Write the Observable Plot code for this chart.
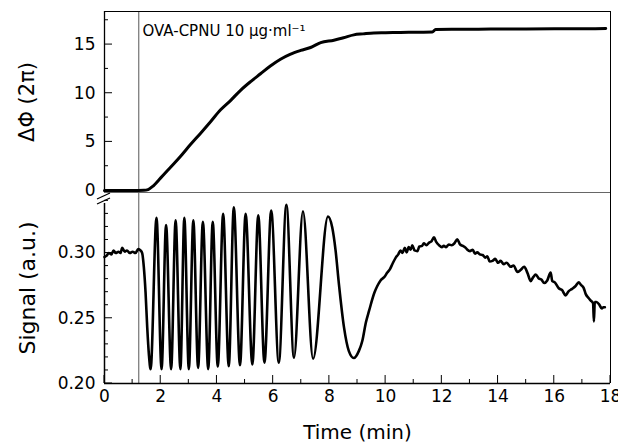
<!DOCTYPE html>
<html><head><meta charset="utf-8">
<script src="https://cdn.jsdelivr.net/npm/d3@7"></script>
<script src="https://cdn.jsdelivr.net/npm/@observablehq/plot@0.6"></script>
<style>
body{margin:0;background:#fff;}
#chart{position:relative;width:618px;height:448px;background:#fff;font-family:"DejaVu Sans";}
#chart svg{position:absolute;left:0;overflow:visible;}
</style></head><body><div id="chart"></div>
<script>
// ---- data ----
const phaseTime = [0, 0.5, 1.0, 1.4, 1.55, 1.7, 2.0, 2.35, 2.7, 3.05, 3.42, 3.78, 4.13, 4.5, 4.84, 5.2, 5.55, 5.9, 6.26, 6.6, 6.98, 7.33, 7.69, 8.16, 8.5, 8.87, 9.2, 9.58, 10.0, 10.53, 11.0, 11.66, 11.78, 12.5, 13.3, 14.09, 15.0, 16.0, 17.0, 17.83];
const phaseValue = [0, 0, 0, 0.02, 0.1, 0.4, 1.3, 2.4, 3.5, 4.7, 5.9, 7.1, 8.3, 9.3, 10.3, 11.2, 12.0, 12.8, 13.5, 14.0, 14.4, 14.7, 15.2, 15.45, 15.7, 16.0, 16.1, 16.2, 16.22, 16.25, 16.27, 16.3, 16.55, 16.57, 16.58, 16.6, 16.6, 16.62, 16.63, 16.65];

const signalTime = [
  0, 0.08, 0.15, 0.25, 0.32, 0.40, 0.50, 0.57, 0.63, 0.72, 0.80, 0.90, 1.00, 1.10, 1.20, 1.28, 1.34,
  1.40, 1.46, 1.52, 1.58, 1.64,
  1.85, 2.03, 2.19, 2.37, 2.53, 2.70, 2.84, 3.00, 3.16, 3.33,
  3.50, 3.69, 3.85, 4.03, 4.22, 4.42, 4.60, 4.82, 5.02, 5.26,
  5.47, 5.69, 5.93, 6.20, 6.47, 6.74, 7.06, 7.42, 7.95, 8.10,
  8.22, 8.34, 8.52, 8.69, 8.87, 9.05, 9.17, 9.30, 9.41, 9.60,
  9.70, 9.82, 9.95, 10.06, 10.15, 10.25,
  10.36, 10.45, 10.53, 10.60, 10.68, 10.75, 10.82, 10.89, 10.95, 11.03,
  11.13, 11.20, 11.30, 11.36, 11.45, 11.55, 11.63, 11.72, 11.80, 11.90,
  12.00, 12.07, 12.15, 12.25, 12.35, 12.45, 12.55, 12.65, 12.75, 12.85,
  12.91, 13.00, 13.10, 13.18, 13.26, 13.35, 13.45, 13.55, 13.62, 13.70,
  13.80, 13.90, 14.00, 14.09, 14.20, 14.30, 14.45, 14.55, 14.69, 14.80,
  14.93, 15.05, 15.16, 15.25, 15.34, 15.45, 15.55, 15.64, 15.75, 15.87,
  15.93, 16.02, 16.16, 16.28, 16.40, 16.50, 16.63, 16.75, 16.87, 16.95,
  17.04, 17.12, 17.22, 17.30, 17.38, 17.41, 17.44, 17.50, 17.60, 17.69,
  17.75, 17.80
];
const signalValue = [
  0.297, 0.298, 0.300, 0.299, 0.302, 0.300, 0.301, 0.300, 0.304, 0.301, 0.302, 0.300, 0.301, 0.300, 0.303, 0.302, 0.300,
  0.289, 0.270, 0.243, 0.222, 0.211,
  0.327, 0.211, 0.3215, 0.211, 0.325, 0.211, 0.327, 0.211, 0.325, 0.212,
  0.324, 0.211, 0.324, 0.213, 0.330, 0.2133, 0.335, 0.214, 0.330, 0.2146,
  0.329, 0.216, 0.3325, 0.216, 0.337, 0.2197, 0.332, 0.219, 0.328, 0.3197,
  0.302, 0.276, 0.243, 0.225, 0.2195, 0.225, 0.2326, 0.247, 0.2556, 0.2695,
  0.2745, 0.279, 0.2815, 0.285, 0.2875, 0.292,
  0.2965, 0.299, 0.302, 0.300, 0.304, 0.3005, 0.3045, 0.3025, 0.306, 0.302,
  0.3015, 0.305, 0.3055, 0.3075, 0.306, 0.308, 0.309, 0.312, 0.3085, 0.306,
  0.3045, 0.3055, 0.3045, 0.3065, 0.306, 0.3075, 0.3105, 0.3065, 0.3055, 0.304,
  0.3025, 0.3015, 0.3025, 0.2995, 0.3005, 0.299, 0.2985, 0.2965, 0.2975, 0.2935,
  0.294, 0.2955, 0.2925, 0.294, 0.2915, 0.2925, 0.2895, 0.2905, 0.2855, 0.287,
  0.2895, 0.2845, 0.2785, 0.2815, 0.2835, 0.2805, 0.2795, 0.277, 0.279, 0.285,
  0.2785, 0.2775, 0.273, 0.2715, 0.2675, 0.2705, 0.2725, 0.2745, 0.2775, 0.2755,
  0.2735, 0.2685, 0.2655, 0.2635, 0.2615, 0.2475, 0.2625, 0.2625, 0.2605, 0.2575,
  0.2585, 0.2585
];

const xTicks = [0, 2, 4, 6, 8, 10, 12, 14, 16, 18];
const xMinorTicks = [1, 3, 5, 7, 9, 11, 13, 15, 17];
const phaseTicks = [0, 5, 10, 15];
const phaseMinorTicks = [2.5, 7.5, 12.5, 17.5];
const signalTicks = [0.20, 0.25, 0.30];
const signalMinorTicks = [0.21, 0.22, 0.23, 0.24, 0.26, 0.27, 0.28, 0.29, 0.31, 0.32, 0.33, 0.34];
const injectionTime = [1.22];
const annotation = ["OVA-CPNU 10 μg·ml⁻¹"];
const annotationPos = {x: 1.35, y: 16.35};
const phaseLabel = ["ΔΦ (2π)"];
const signalLabel = ["Signal (a.u.)"];
const timeLabel = ["Time (min)"];
const xDomain = [0, 18];
const phaseDomain = [-0.2, 18.4];
const signalDomain = [0.20, 0.3464];
const signalAxisTop = 0.338;

const FONT = "DejaVu Sans";
const W = 618;
const ML = 104, MR = 8;

const topPlot = Plot.plot({
  width: W, height: 193,
  marginLeft: ML, marginRight: MR, marginTop: 11, marginBottom: 1,
  style: {fontFamily: FONT, background: "transparent", overflow: "visible"},
  x: {domain: xDomain, axis: null},
  y: {domain: phaseDomain, axis: null},
  marks: [
    Plot.ruleX(injectionTime, {stroke: "#555", strokeWidth: 1}),
    Plot.ruleY([phaseDomain[0]], {stroke: "#666", strokeWidth: 1}),
    Plot.ruleY([phaseDomain[1]], {stroke: "#000", strokeWidth: 1}),
    Plot.ruleX([xDomain[0]], {stroke: "#000", strokeWidth: 1.3}),
    Plot.ruleX([xDomain[1]], {stroke: "#000", strokeWidth: 1}),
    Plot.line(phaseTime, {x: phaseTime, y: phaseValue, stroke: "#000", strokeWidth: 3, curve: "monotone-x"}),
    Plot.axisY(phaseTicks, {tickSize: 0, tickPadding: 9, fontSize: 17, label: null, tickFormat: d3.format("d")}),
    Plot.text(annotation, {x: annotationPos.x, y: annotationPos.y, text: d => d, textAnchor: "start", fontSize: 15, fill: "#000"}),
    Plot.text(phaseLabel, {frameAnchor: "left", dx: -77, rotate: -90, textAnchor: "middle", lineAnchor: "middle", text: d => d, fontSize: 21, fill: "#000"})
  ]
});
topPlot.style.top = "0px";

const bottomPlot = Plot.plot({
  width: W, height: 256,
  marginLeft: ML, marginRight: MR, marginTop: 0, marginBottom: 65,
  style: {fontFamily: FONT, background: "transparent", overflow: "visible"},
  x: {domain: xDomain, axis: null},
  y: {domain: signalDomain, axis: null},
  marks: [
    Plot.ruleX(injectionTime, {stroke: "#555", strokeWidth: 1}),
    Plot.ruleY([signalDomain[0]], {stroke: "#000", strokeWidth: 1.5}),
    Plot.ruleX([xDomain[0]], {y1: signalDomain[0], y2: signalAxisTop, stroke: "#000", strokeWidth: 1.5}),
    Plot.ruleX([xDomain[1]], {stroke: "#000", strokeWidth: 1}),
    Plot.line(signalTime, {x: signalTime, y: signalValue, stroke: "#000", strokeWidth: 2.6, curve: "monotone-x"}),
    Plot.axisY(signalTicks, {tickSize: 0, tickPadding: 9, fontSize: 17, label: null, tickFormat: d3.format(".2f")}),
    Plot.axisX(xTicks, {tickSize: 0, tickPadding: 6, fontSize: 17, label: null, tickFormat: d3.format("d")}),
    Plot.text(signalLabel, {frameAnchor: "left", dx: -77, rotate: -90, textAnchor: "middle", lineAnchor: "middle", text: d => d, fontSize: 22, fill: "#000"}),
    Plot.text(timeLabel, {frameAnchor: "bottom", dy: 49, textAnchor: "middle", lineAnchor: "middle", text: d => d, fontSize: 20, fill: "#000"})
  ]
});
bottomPlot.style.top = "192px";

// inward-pointing tick marks, placed with the plots' own scales
function yTicks(svg, values, len) {
  const y = svg.scale("y");
  d3.select(svg).append("g").attr("stroke", "#000").attr("stroke-width", 1)
    .selectAll("line").data(values).join("line")
    .attr("x1", ML).attr("x2", ML + len)
    .attr("y1", d => y.apply(d)).attr("y2", d => y.apply(d));
}
function xTicksAt(svg, values, len, yBase) {
  const x = svg.scale("x");
  d3.select(svg).append("g").attr("stroke", "#000").attr("stroke-width", 1)
    .selectAll("line").data(values).join("line")
    .attr("x1", d => x.apply(d)).attr("x2", d => x.apply(d))
    .attr("y1", yBase).attr("y2", yBase - len);
}
yTicks(topPlot, phaseTicks, 8);
yTicks(topPlot, phaseMinorTicks, 4);
yTicks(bottomPlot, signalTicks, 8);
yTicks(bottomPlot, signalMinorTicks, 4);
const frameBottom = bottomPlot.scale("y").apply(signalDomain[0]);
xTicksAt(bottomPlot, xTicks, 8, frameBottom);
xTicksAt(bottomPlot, xMinorTicks, 4, frameBottom);

// axis-break marks on the left axis, drawn relative to the frame corner
d3.select(bottomPlot).append("g")
  .attr("stroke", "#000").attr("stroke-width", 1.3).attr("fill", "none")
  .selectAll("line").data([0, 5]).join("line")
  .attr("x1", ML - 7).attr("x2", ML + 6)
  .attr("y1", d => 7 + d).attr("y2", d => 1 + d);

const chart = document.getElementById("chart");
chart.appendChild(topPlot);
chart.appendChild(bottomPlot);
</script>
</body></html>
